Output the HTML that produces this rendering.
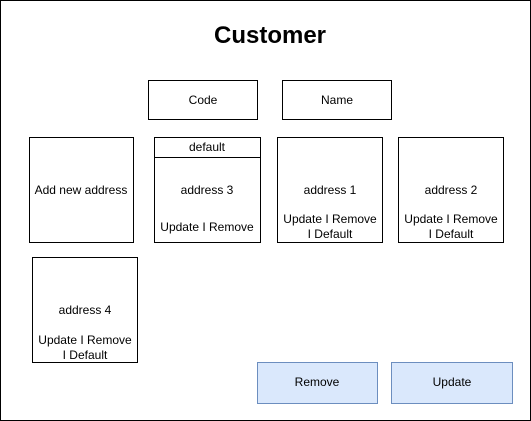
<!DOCTYPE html>
<html><head><style>body{margin:0;background:#fff}svg{display:block}text{font-family:"Liberation Sans",Arial,sans-serif;font-size:12px;fill:#000}</style></head><body>
<svg width="531" height="421" viewBox="0 0 531 421">
<rect x="0.5" y="0.5" width="530" height="420" fill="#fff" stroke="#000"/>
<text x="270" y="43" text-anchor="middle" style="font-size:24px;font-weight:bold">Customer</text>
<g fill="#fff" stroke="#000">
<rect x="148.5" y="80.5" width="109" height="39"/>
<rect x="282.5" y="80.5" width="109" height="39"/>
<rect x="29.5" y="137.5" width="104" height="105"/>
<rect x="154.5" y="137.5" width="106" height="105"/>
<line x1="154.5" y1="157.5" x2="260.5" y2="157.5"/>
<rect x="277.5" y="137.5" width="105" height="105"/>
<rect x="398.5" y="137.5" width="105" height="105"/>
<rect x="32.5" y="257.5" width="105" height="105"/>
</g>
<g fill="#dae8fc" stroke="#6c8ebf">
<rect x="257.5" y="362.5" width="120" height="41"/>
<rect x="391.5" y="362.5" width="121" height="41"/>
</g>
<g text-anchor="middle">
<text x="203" y="104">Code</text>
<text x="337" y="104">Name</text>
<text x="81" y="194">Add new address</text>
<text x="207" y="151">default</text>
<text x="207" y="194">address 3</text>
<text x="207" y="231">Update I Remove</text>
<text x="330" y="194">address 1</text>
<text x="330" y="223">Update I Remove</text>
<text x="330" y="238">I Default</text>
<text x="451" y="194">address 2</text>
<text x="451" y="223">Update I Remove</text>
<text x="451" y="238">I Default</text>
<text x="85" y="314">address 4</text>
<text x="85" y="344">Update I Remove</text>
<text x="85" y="359">I Default</text>
<text x="317" y="386">Remove</text>
<text x="452" y="386">Update</text>
</g>
</svg>
</body></html>
